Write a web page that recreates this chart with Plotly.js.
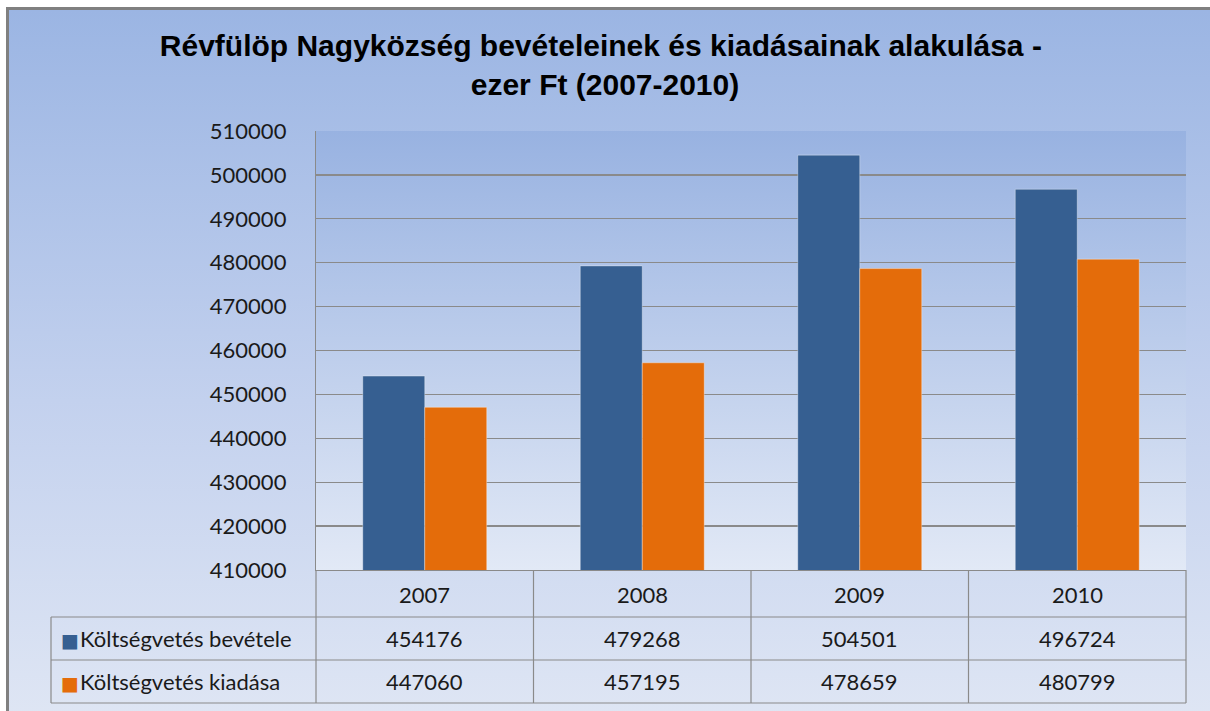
<!DOCTYPE html>
<html>
<head>
<meta charset="utf-8">
<script src="https://cdn.plot.ly/plotly-3.0.1.min.js"></script>
<style>
  html, body { margin: 0; padding: 0; background: #ffffff; width: 1210px; height: 711px; overflow: hidden; }
  #frame { position: absolute; left: 6px; top: 7px; width: 1210px; height: 711px;
           border-top: 3px solid #808080; border-left: 3px solid #808080;
           background: linear-gradient(to bottom, #9bb5e3 0%, #c3d1ee 55%, #dfe6f4 100%); }
  #plotbg { position: absolute; left: 316px; top: 131px; width: 870px; height: 439px;
            background: linear-gradient(to bottom, #98b2e1 0%, #e2e9f6 100%); }
  #chart { position: absolute; left: 0; top: 0; width: 1210px; height: 711px; }
</style>
</head>
<body>
<div id="frame"></div>
<div id="plotbg"></div>
<div id="chart"></div>
<script>
// ---- data ----
const categories = ['2007', '2008', '2009', '2010'];
const bevetel = [454176, 479268, 504501, 496724];
const kiadas = [447060, 457195, 478659, 480799];
const seriesNames = ['Költségvetés bevétele', 'Költségvetés kiadása'];
const seriesColors = ['#365f91', '#e46c0a'];
const titleText = 'Révfülöp Nagyközség bevételeinek és kiadásainak alakulása - <br>ezer Ft (2007-2010)';

// ---- layout geometry (pixels) ----
const W = 1210, H = 711;
const plotL = 316, plotR = 1186, plotT = 131, plotB = 570;
const plotH = plotB - plotT, plotW = plotR - plotL;
const py = p => (plotB - p) / plotH;          // pixel y -> paper y
const px = p => (p - plotL) / plotW;          // pixel x -> paper x
const rowLines = [617, 660, 703];
const tableLeft = 51;
const rowCenters = [594, 638.5, 681.5];
const gridColor = '#8a8a8a';
const textFont = 'Lato, "Open Sans", "DejaVu Sans", sans-serif';

const allSeries = [bevetel, kiadas];

const traces = allSeries.map((vals, i) => ({
  type: 'bar',
  x: categories,
  y: vals,
  name: seriesNames[i],
  marker: { color: seriesColors[i], line: { color: 'rgba(255,255,255,0.35)', width: 1 } },
  hoverinfo: 'skip'
}));

const shapes = [];
const lineStyle = { color: gridColor, width: 1.2 };
rowLines.forEach(r => {
  shapes.push({ type: 'line', xref: 'paper', yref: 'paper', x0: px(tableLeft), x1: 1, y0: py(r), y1: py(r), line: lineStyle });
});
shapes.push({ type: 'line', xref: 'paper', yref: 'paper', x0: px(tableLeft), x1: px(tableLeft), y0: py(rowLines[0]), y1: py(rowLines[2]), line: lineStyle });
for (let i = 0; i <= categories.length; i++) {
  shapes.push({ type: 'line', xref: 'paper', yref: 'paper', x0: i / categories.length, x1: i / categories.length, y0: 0, y1: py(rowLines[2]), line: lineStyle });
}

const annotations = [];
categories.forEach((c, i) => {
  annotations.push({ xref: 'x', yref: 'paper', x: i, y: py(rowCenters[0]), text: c, showarrow: false,
    xanchor: 'center', yanchor: 'middle', font: { family: textFont, size: 22, color: '#1a1a1a' } });
});
allSeries.forEach((vals, s) => {
  vals.forEach((v, i) => {
    annotations.push({ xref: 'x', yref: 'paper', x: i, y: py(rowCenters[s + 1]), text: String(v), showarrow: false,
      xanchor: 'center', yanchor: 'middle', font: { family: textFont, size: 22, color: '#1a1a1a' } });
  });
  annotations.push({ xref: 'paper', yref: 'paper', x: px(59), y: py(rowCenters[s + 1] + 1), text: '■', showarrow: false,
    xanchor: 'left', yanchor: 'middle', font: { family: '"DejaVu Sans", sans-serif', size: 19, color: seriesColors[s] } });
  annotations.push({ xref: 'paper', yref: 'paper', x: px(78), y: py(rowCenters[s + 1]), text: seriesNames[s], showarrow: false,
    xanchor: 'left', yanchor: 'middle', font: { family: textFont, size: 22, color: '#1a1a1a' } });
});

const layout = {
  width: W, height: H,
  paper_bgcolor: 'rgba(0,0,0,0)',
  plot_bgcolor: 'rgba(0,0,0,0)',
  margin: { l: plotL, r: W - plotR, t: plotT, b: H - plotB, pad: 0 },
  showlegend: false,
  barmode: 'group',
  bargap: 0.43,
  bargroupgap: 0,
  title: {
    text: titleText,
    x: 605 / W, xref: 'container', xanchor: 'center',
    y: 1 - 56 / H, yref: 'container', yanchor: 'top',
    font: { family: '"Liberation Sans", Arial, sans-serif', size: 30, color: '#000000', weight: 'bold' }
  },
  xaxis: {
    type: 'category',
    range: [-0.5, categories.length - 0.5],
    autorange: false,
    showticklabels: false,
    showgrid: false,
    showline: true, linecolor: gridColor, linewidth: 1.2,
    ticks: '', zeroline: false, fixedrange: true
  },
  yaxis: {
    range: [410000, 510000],
    autorange: false,
    dtick: 10000,
    tick0: 410000,
    showgrid: true, gridcolor: gridColor, gridwidth: 1.2,
    showline: true, linecolor: gridColor, linewidth: 1.2,
    ticks: '', ticklabelstandoff: 24,
    tickformat: 'd',
    tickfont: { family: textFont, size: 22, color: '#1a1a1a' },
    zeroline: false, fixedrange: true
  },
  shapes: shapes,
  annotations: annotations
};

Plotly.newPlot('chart', traces, layout, { displayModeBar: false, staticPlot: true });
</script>
</body>
</html>
